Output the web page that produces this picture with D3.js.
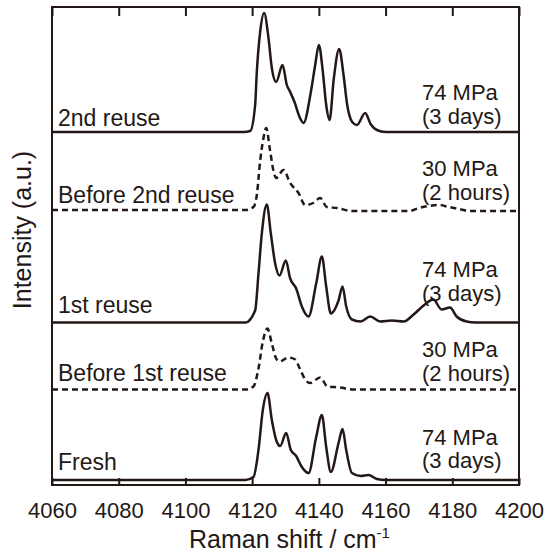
<!DOCTYPE html>
<html>
<head>
<meta charset="utf-8">
<script src="https://cdn.jsdelivr.net/npm/d3@7"></script>
<style>
  body { margin: 0; background: #fff; }
  text { font-family: "Liberation Sans", Arial, sans-serif; fill: #231815; }
</style>
</head>
<body>
<script>
// Raman shift ticks
var xTicks = [4060, 4080, 4100, 4120, 4140, 4160, 4180, 4200];

// spectra: [shift, intensity above own baseline]
var fresh = [[4060,0],[4118,0],[4120.4,3],[4121.9,30],[4123.2,70],[4124.6,87],[4125.9,60],[4127.2,40],[4128.4,34],[4130.2,47],[4131.6,30],[4133.2,24],[4134.9,13],[4136.9,7],[4139.2,43],[4140.9,65],[4142.2,33],[4143.6,8],[4145.9,37],[4147.1,51],[4148.2,30],[4149.9,7],[4152.5,4],[4154.9,5],[4157.4,1],[4160,0],[4200,0]];
var before1st = [[4060,0],[4118,0],[4120.4,3],[4121.9,21],[4123.2,48],[4124.6,61],[4125.9,46],[4127.2,31],[4128.2,28],[4130.9,32],[4132.9,30],[4134.4,20],[4135.9,10],[4137.4,6.5],[4140.4,12],[4142.6,3],[4146.4,2],[4150.3,0],[4200,0]];
var reuse1st = [[4060,0],[4118,0],[4120.9,12],[4121.9,49],[4122.9,89],[4124.4,118],[4125.6,89],[4126.9,59],[4128.2,47],[4130.1,62],[4131.4,44],[4133.2,34],[4134.9,16],[4136.9,6],[4139.2,39],[4140.9,66],[4142.2,36],[4143.6,9],[4145.9,22],[4147.1,36],[4148.2,16],[4149.9,3],[4152.5,1],[4155.4,6],[4158.4,1],[4161.9,2],[4165.4,1],[4168.4,8],[4171.4,17],[4174.3,23],[4176.8,13],[4179.3,15],[4181.3,6],[4184.3,1],[4187,0],[4200,0]];
var before2nd = [[4060,0],[4118,0],[4120.4,3],[4121.4,15],[4122.4,49],[4123.4,72],[4124.2,82],[4125.4,59],[4126.4,39],[4127.2,32],[4129.4,40],[4131.4,27],[4133.9,17],[4135.9,5],[4138.3,7],[4140.4,12],[4142.4,3],[4145.4,2],[4150,-1],[4167,-1],[4170,2],[4173,4],[4176,5],[4179,3],[4182,1],[4185,-1],[4200,-1]];
var reuse2nd = [[4060,0],[4117.5,0],[4119.4,1],[4120.9,27],[4121.4,60],[4122.4,100],[4123.6,119],[4124.9,94],[4125.9,64],[4127.2,50],[4129.1,67],[4130.4,47],[4131.4,40],[4132.7,30],[4134.2,15],[4135.4,9],[4137.6,40],[4138.9,67],[4140,87],[4141.2,60],[4142.2,27],[4143.2,12],[4144.5,54],[4146.1,83],[4147.4,57],[4148.5,27],[4150,10],[4151.4,7],[4153.9,19],[4155.5,8],[4157.4,2],[4160,0],[4200,0]];

var spectra = [fresh, before1st, reuse1st, before2nd, reuse2nd];
var baselines = [5, 95.5, 162.5, 275, 353];
var dashed = [false, true, false, true, false];
var leftLabels = ["Fresh", "Before 1st reuse", "1st reuse", "Before 2nd reuse", "2nd reuse"];
var rightLabels = [["74 MPa", "(3 days)"], ["30 MPa", "(2 hours)"], ["74 MPa", "(3 days)"], ["30 MPa", "(2 hours)"], ["74 MPa", "(3 days)"]];
// label heights in the same units as the spectra
var leftLabelY = [15, 104.5, 172, 282, 359];
var rightLabelY = [[40, 17], [128.5, 104.5], [208.5, 184.5], [309, 285], [385, 361]];

var W = 546, H = 558;
var margin = {left: 52, right: 27, top: 7, bottom: 73};
var width = W - margin.left - margin.right,
    height = H - margin.top - margin.bottom;
var ink = "#231815";

var svg = d3.select("body").append("svg")
    .attr("width", W)
    .attr("height", H);

var g = svg.append("g")
    .attr("transform", "translate(" + margin.left + "," + margin.top + ")");

var x = d3.scaleLinear().domain([4060, 4200]).range([0, width]);
var y = d3.scaleLinear().domain([0, height]).range([height, 0]);

// spectra
spectra.forEach(function(s, i) {
    var line = d3.line()
        .x(function(d) { return x(d[0]); })
        .y(function(d) { return y(d[1] + baselines[i]); })
        .curve(d3.curveMonotoneX);
    g.append("path")
        .datum(s)
        .attr("d", line)
        .attr("fill", "none")
        .attr("stroke", ink)
        .attr("stroke-width", 2.5)
        .attr("stroke-linejoin", "round")
        .attr("stroke-dasharray", dashed[i] ? "6,4" : null);
});

// labels
leftLabels.forEach(function(t, i) {
    g.append("text")
        .attr("x", 6)
        .attr("y", y(leftLabelY[i]))
        .attr("font-size", "23px")
        .text(t);
    rightLabels[i].forEach(function(r, j) {
        g.append("text")
            .attr("x", 370)
            .attr("y", y(rightLabelY[i][j]))
            .attr("font-size", "22px")
            .text(r);
    });
});

// axes, ticks point inward
var xBottom = d3.axisBottom(x).tickValues(xTicks).tickSizeInner(-7).tickSizeOuter(0)
    .tickPadding(17).tickFormat(d3.format("d"));
var xTop = d3.axisTop(x).tickValues(xTicks).tickSizeInner(-9).tickSizeOuter(0).tickFormat("");

var gb = g.append("g").attr("transform", "translate(0," + height + ")").call(xBottom);
var gt = g.append("g").call(xTop);
[gb, gt].forEach(function(a) {
    a.select(".domain").remove();
    a.selectAll("line").attr("stroke", ink).attr("stroke-width", 2);
    a.selectAll("text").attr("font-size", "22px").attr("fill", ink)
        .style("font-family", "Liberation Sans, Arial, sans-serif");
});

// frame
g.append("rect")
    .attr("width", width)
    .attr("height", height)
    .attr("fill", "none")
    .attr("stroke", ink)
    .attr("stroke-width", 2);

// axis titles
var xt = svg.append("text")
    .attr("x", margin.left + width / 2 + 4)
    .attr("y", 548)
    .attr("text-anchor", "middle")
    .attr("font-size", "25px");
xt.append("tspan").text("Raman shift / cm");
xt.append("tspan").attr("font-size", "15px").attr("dy", -10).text("-1");

svg.append("text")
    .attr("transform", "translate(31,230) rotate(-90)")
    .attr("text-anchor", "middle")
    .attr("font-size", "25px")
    .text("Intensity (a.u.)");
</script>
</body>
</html>
